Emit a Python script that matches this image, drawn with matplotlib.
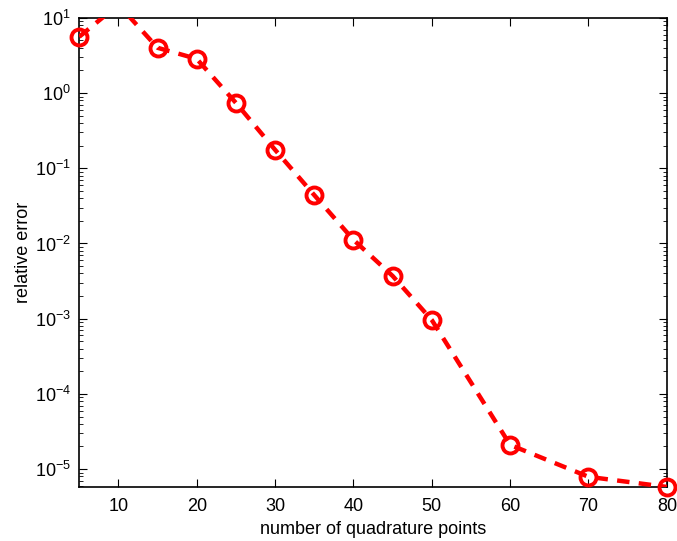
import matplotlib.pyplot as plt
import matplotlib.ticker as mticker
import numpy as np

plt.rcParams['font.family'] = ['Liberation Sans', 'DejaVu Sans']

npts = [5, 10, 15, 20, 25, 30, 35, 40, 45, 50, 60, 70, 80]
rel_err = [5.6, 15.0, 4.0, 2.85, 0.74, 0.176, 0.044, 0.0112, 0.0037,
           0.00096, 2.1e-5, 7.9e-6, 5.8e-6]
decades = [1e-5, 1e-4, 1e-3, 1e-2, 1e-1, 1e0, 1e1]

fig = plt.figure(figsize=(6.77, 5.41), dpi=100)
ax = fig.add_axes([0.117, 0.100, 0.868, 0.867])

# circles are not clipped, dashed line is (it runs out of the top near n=10)
shown = [i for i in range(len(npts)) if rel_err[i] <= 10]
ax.plot(npts, rel_err, 'o', color='red', mfc='none', ms=11.5, mew=2.8,
        markevery=shown, clip_on=False, zorder=4)
ax.plot(npts, rel_err, '--', color='red', lw=3.2, dashes=(2.8, 2.1), zorder=5)

ax.set_yscale('log')
ax.set_xlim(5, 80)
ax.set_ylim(5.8e-6, 10)
ax.set_xticks(np.arange(10, 81, 10))
ax.set_yticks(decades)
ax.yaxis.set_minor_locator(mticker.LogLocator(subs=np.arange(2, 10)))
ax.yaxis.set_minor_formatter(mticker.NullFormatter())
ax.tick_params(which='both', direction='in', top=True, right=True, labelsize=13)
ax.tick_params(axis='x', pad=8)
ax.tick_params(axis='y', pad=6)
ax.tick_params(which='major', length=6)
ax.tick_params(which='minor', length=3)
for s in ax.spines.values():
    s.set_linewidth(1.2)

ax.set_xlabel('number of quadrature points', fontsize=13, labelpad=4)
ax.set_ylabel('relative error', fontsize=13, labelpad=2)

fig.savefig('out.png', dpi=100)
